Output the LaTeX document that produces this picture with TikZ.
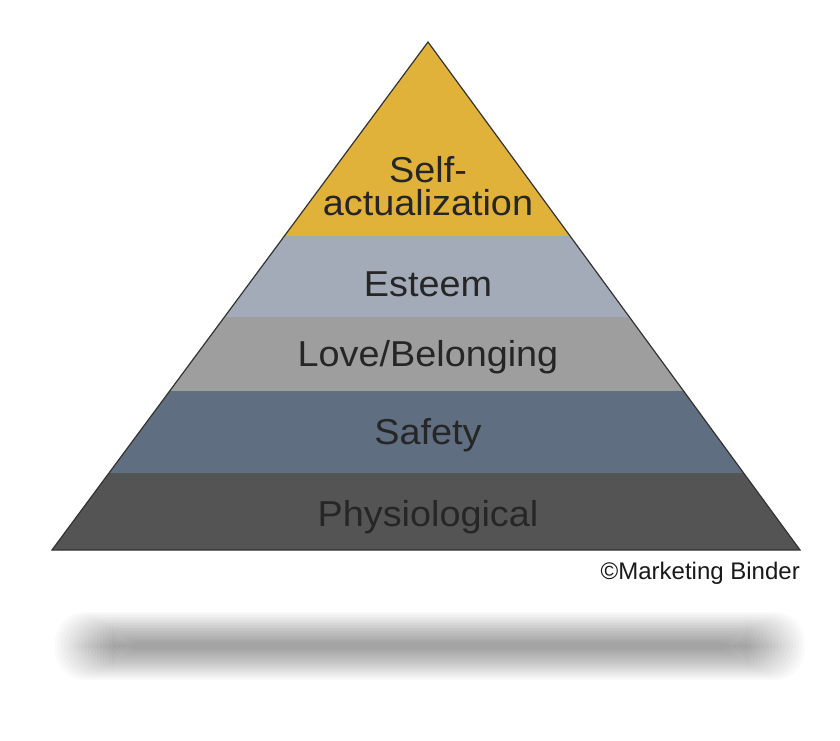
\documentclass[tikz,border=0pt]{standalone}
\usepackage{fontspec}
\setmainfont{Liberation Sans}
\begin{document}
\begin{tikzpicture}[x=1pt,y=-1pt,
  lbl/.style={text=black!85, font=\fontsize{36}{38}\selectfont, align=center, inner sep=0, xscale=1.05}]
\useasboundingbox (0,0) rectangle (840,741);
\fill[white] (0,0) rectangle (840,741);
% shadow
\foreach \i in {0,...,19}{
  \fill[black, opacity=0.02, rounded corners=30] (55+\i*3,612+\i*1.6) rectangle (805-\i*3,680-\i*1.6);
}
\coordinate (A) at (428,42);
\coordinate (L) at (52,550);
\coordinate (R) at (800,550);
\begin{scope}
\clip (A) -- (L) -- (R) -- cycle;
\fill[fill={rgb,255:red,224;green,178;blue,58}] (0,0) rectangle (840,236);
\fill[fill={rgb,255:red,163;green,170;blue,184}] (0,236) rectangle (840,317);
\fill[fill={rgb,255:red,158;green,158;blue,158}] (0,317) rectangle (840,391);
\fill[fill={rgb,255:red,95;green,110;blue,128}] (0,391) rectangle (840,473);
\fill[fill={rgb,255:red,84;green,84;blue,84}] (0,473) rectangle (840,551);
\end{scope}
\draw[black!80, line width=1.2] (A) -- (L) -- (R) -- cycle;
\node[lbl] (t1) at (428,186) {Self-\\[-5pt]actualization};
\node[lbl] (t2) at (428,284) {Esteem};
\node[lbl] (t3) at (428,357) {Love/Belonging};
\node[lbl] (t4) at (428,435) {Safety};
\node[lbl] (t5) at (428,517) {Physiological};
\node[anchor=east, inner sep=0, font=\fontsize{24}{26}\selectfont, text=black!90] (c) at (800,573) {©Marketing Binder};
\end{tikzpicture}
\end{document}
